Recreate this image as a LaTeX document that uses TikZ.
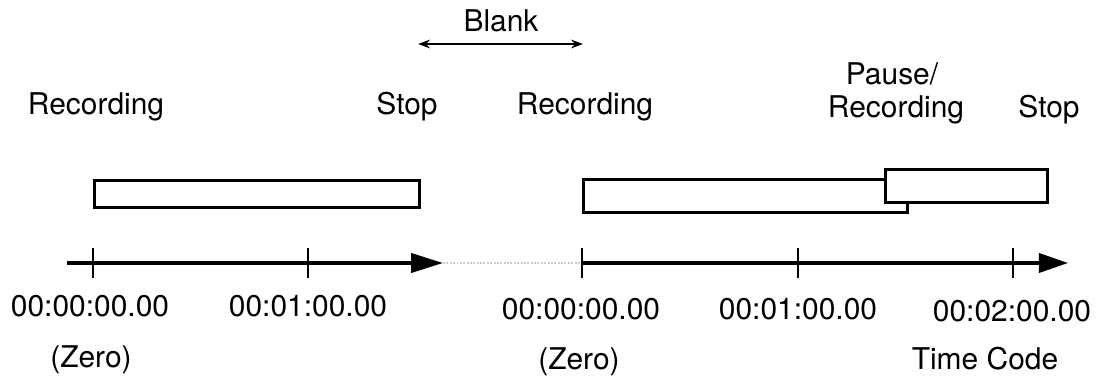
\documentclass[tikz,border=0pt]{standalone}
\usepackage{fontspec}
\setmainfont{TeX Gyre Heros}
\usepackage{tikz}
\usetikzlibrary{arrows.meta, positioning}
\tikzset{
    lbl/.style={inner sep=0pt, anchor=base, font=\fontsize{21.3}{25}\selectfont},
    recbox/.style={rectangle, draw=black, line width=1.8pt, fill=white, inner sep=0pt, anchor=south west},
    axisline/.style={line width=2.4pt, line cap=butt},
    tickmark/.style={line width=1.2pt},
    blankline/.style={gray!40, line width=1.4pt, densely dotted},
    spanarrow/.style={{Stealth[length=3mm, width=2.2mm]}-{Stealth[length=3mm, width=2.2mm]}, line width=0.9pt},
}

\begin{document}
\begin{tikzpicture}
    \useasboundingbox (0,0) rectangle (27.575,9.625);

    % time axis coordinates
    \coordinate (ax1start) at (1.675,3.05);
    \coordinate (t1) at (2.325,3.05);
    \coordinate (t2) at (7.7,3.05);
    \coordinate (ax1tip) at (11.075,3.05);
    \coordinate (t3) at (14.55,3.05);
    \coordinate (t4) at (19.95,3.05);
    \coordinate (t5) at (25.325,3.05);
    \coordinate (ax2tip) at (26.7,3.05);

    % recording blocks
    \node[recbox, minimum width=8.125cm, minimum height=0.675cm] (rec1) at (2.325,4.4) {};
    \node[recbox, minimum width=8.1cm, minimum height=0.825cm] (rec2) at (14.55,4.275) {};
    \node[recbox, minimum width=4.05cm, minimum height=0.825cm] (rec3) at (22.1,4.525) {};

    % labels above
    \node[lbl] (lrec1) at (2.4,6.75) {Recording};
    \node[lbl] (lstop1) at (10.175,6.75) {Stop};
    \node[lbl] (lrec2) at (14.625,6.75) {Recording};
    \node[lbl] (lpause) at (22.3,7.5) {Pause/};
    \node[lbl] (lrec3) at (22.4,6.675) {Recording};
    \node[lbl] (lstop2) at (26.225,6.675) {Stop};

    % blank span
    \node[lbl] (lblank) at (12.525,8.825) {Blank};
    \coordinate (blankL) at (10.45,8.525);
    \coordinate (blankR) at (14.575,8.525);
    \draw[spanarrow] (blankL) -- (blankR);

    % axis
    \draw[axisline, -{Triangle[length=8mm, width=4.8mm]}] (ax1start) -- (ax1tip);
    \draw[blankline] (ax1tip) -- (t3);
    \draw[axisline, -{Triangle[length=7.3mm, width=4.8mm]}] (t3) -- (ax2tip);
    \foreach \t in {t1,t2,t3,t4,t5}
        \draw[tickmark] (\t) ++(0,0.375) -- ++(0,-0.75);

    % time code labels
    \node[lbl] (tc1) at (2.25,1.7) {00:00:00.00};
    \node[lbl] (tc2) at (7.7,1.7) {00:01:00.00};
    \node[lbl] (tc3) at (14.525,1.625) {00:00:00.00};
    \node[lbl] (tc4) at (19.95,1.625) {00:01:00.00};
    \node[lbl] (tc5) at (25.3,1.575) {00:02:00.00};

    \node[lbl] (zero1) at (2.275,0.425) {(Zero)};
    \node[lbl] (zero2) at (14.475,0.375) {(Zero)};
    \node[lbl] (tcname) at (24.625,0.375) {Time Code};
\end{tikzpicture}
\end{document}
